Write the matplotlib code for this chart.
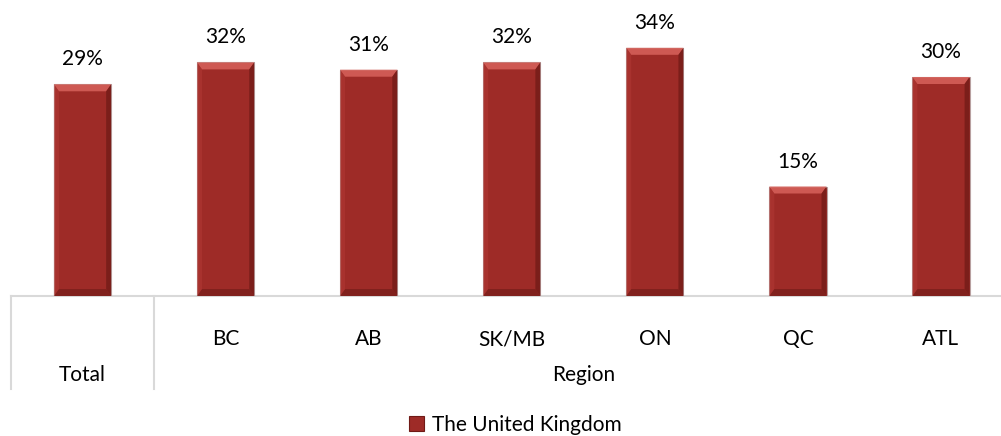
import matplotlib
matplotlib.use("Agg")
import matplotlib.pyplot as plt
from matplotlib.patches import Polygon, Patch
from matplotlib.lines import Line2D

plt.rcParams['font.family'] = ['Lato', 'DejaVu Sans']

categories = ["Total", "BC", "AB", "SK/MB", "ON", "QC", "ATL"]
values = [29, 32, 31, 32, 34, 15, 30]
group_labels = ["Total", "Region"]
series_name = "The United Kingdom"

base = "#9E2B27"
top_c = "#D45F58"
left_c = "#B03833"
right_c = "#701A16"
bottom_c = "#7A1F1B"
grid_c = "#D9D9D9"
fs = 15

fig = plt.figure(figsize=(10.01, 4.36), dpi=100)
ax = fig.add_axes([11 / 1001, 140 / 436, 1001.5 / 1001, 296 / 436])
ax.set_xlim(-0.5, len(categories) - 0.5)
ax.set_ylim(0, 296 / 7.3)
ax.axis("off")

x = list(range(len(categories)))
bars = ax.bar(x, values, width=0.4, color=base, edgecolor="#B8A0A0", linewidth=0.8, zorder=2)

# bevel: ~7 px top/bottom, ~5 px sides
bx = 5 / (1001.5 / len(categories))
by = 7 / 7.3
for b in bars:
    x0, y0 = b.get_x(), b.get_y()
    x1, y1 = x0 + b.get_width(), y0 + b.get_height()
    sides = [
        ([(x0, y1), (x1, y1), (x1 - bx, y1 - by), (x0 + bx, y1 - by)], top_c, 0.9),
        ([(x0, y0), (x1, y0), (x1 - bx, y0 + by), (x0 + bx, y0 + by)], bottom_c, 0.8),
        ([(x0, y0), (x0, y1), (x0 + bx, y1 - by), (x0 + bx, y0 + by)], left_c, 0.6),
        ([(x1, y0), (x1, y1), (x1 - bx, y1 - by), (x1 - bx, y0 + by)], right_c, 0.75),
    ]
    for pts, c, a in sides:
        ax.add_patch(Polygon(pts, closed=True, facecolor=c, edgecolor="none", alpha=a, zorder=3))
    ax.annotate(f"{b.get_height():.0f}%", (b.get_x() + b.get_width() / 2, y1),
                xytext=(0, 18), textcoords="offset points", ha="center", va="center",
                fontsize=fs, color="#000000")

# category table below the axis
ax.add_line(Line2D([-0.5, len(categories) - 0.5], [0, 0], color=grid_c, lw=1.5,
                   clip_on=False, zorder=1))
for xv in [-0.5, 0.5]:
    ax.add_line(Line2D([xv, xv], [0, -93 / 7.3], color=grid_c, lw=1.5, clip_on=False))

for i, cat in enumerate(categories):
    if i == 0:
        continue
    ax.text(i, -43 / 7.3, cat, ha="center", va="center", fontsize=fs)
ax.text(0, -79 / 7.3, group_labels[0], ha="center", va="center", fontsize=fs)
ax.text((1 + len(categories) - 1) / 2, -79 / 7.3, group_labels[1], ha="center", va="center", fontsize=fs)

handle = Patch(facecolor=base, edgecolor=right_c, linewidth=0.8)
fig.legend([handle], [series_name], loc="center", bbox_to_anchor=(0.515, 11 / 436),
           frameon=False, fontsize=fs, handlelength=0.7, handleheight=0.7, handletextpad=0.4)

fig.savefig("out.png", dpi=100)
